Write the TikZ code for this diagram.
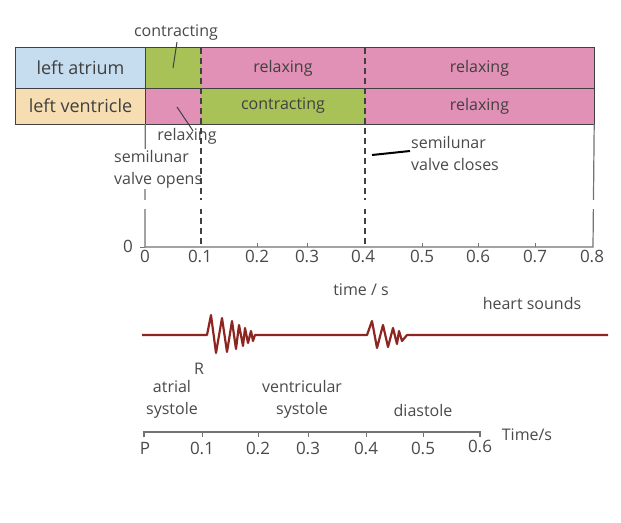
\documentclass[tikz,border=0pt]{standalone}
\usepackage{fontspec}
\setmainfont{Open Sans}
\definecolor{atrium}{HTML}{C6DCEF}
\definecolor{ventricle}{HTML}{F6DEB2}
\definecolor{contract}{HTML}{A9C257}
\definecolor{relax}{HTML}{E190B6}
\definecolor{cellline}{HTML}{404040}
\definecolor{txt}{HTML}{4A4A4A}
\definecolor{axisgray}{HTML}{737373}
\definecolor{sound}{HTML}{8F2520}
\tikzset{
  lbl/.style={text=txt, inner sep=1pt, font=\fontsize{16}{22}\selectfont},
  num/.style={text=txt, inner sep=0pt, font=\fontsize{17}{20}\selectfont},
  phase/.style={dash pattern=on 6pt off 4pt, line width=1.1pt, draw=cellline},
  pointer/.style={draw=cellline, line width=1pt}
}
\begin{document}
\begin{tikzpicture}[x=1pt,y=-1pt]
\useasboundingbox (0,0) rectangle (621,522);
\fill[white] (0,0) rectangle (621,522);

\begin{scope}[every node/.style={inner sep=0pt, text=cellline, font=\fontsize{16}{20}\selectfont}]
  \node[fill=atrium, minimum width=129pt, minimum height=40pt, font=\fontsize{18}{20}\selectfont] (la) at (80.5,68) {left atrium};
  \node[fill=contract, minimum width=56pt, minimum height=40pt] (ac) at (173,68) {};
  \node[fill=relax, minimum width=164pt, minimum height=40pt] (ar1) at (283,68) {relaxing};
  \node[fill=relax, minimum width=229pt, minimum height=40pt] (ar2) at (479.5,68) {relaxing};
  \node[fill=ventricle, minimum width=129pt, minimum height=36pt, font=\fontsize{18}{20}\selectfont] (lv) at (80.5,106) {left ventricle};
  \node[fill=relax, minimum width=56pt, minimum height=36pt] (vr1) at (173,106) {};
  \node[fill=contract, minimum width=164pt, minimum height=36pt] (vc) at (283,106) {contracting};
  \node[fill=relax, minimum width=229pt, minimum height=36pt] (vr2) at (479.5,106) {relaxing};
\end{scope}

\draw[cellline, line width=1.2pt] (la.north west) rectangle (vr2.south east);
\draw[cellline, line width=1.2pt] (la.south west) -- (ar2.south east);
\draw[cellline, line width=1.2pt] (la.north east) -- (lv.south east);

\coordinate (o) at (145,247);
\coordinate (e) at (593,247);
\draw[axisgray, line width=1.2pt] (lv.south east) -- (o) -- (e) -- (vr2.south east);
\draw[axisgray, line width=1pt] (o) -- (140,247);
\draw[axisgray, line width=1pt] (257,247) -- (257,243);
\draw[axisgray, line width=1pt] (307,247) -- (307,243);
\draw[axisgray, line width=1pt] (422,247) -- (422,243);
\draw[axisgray, line width=1pt] (478,247) -- (478,243);
\draw[axisgray, line width=1pt] (535,247) -- (535,243);

\node[num] (y0) at (128,246) {0};
\node[num] (x0) at (145,256) {0};
\node[num] (x1) at (200,256) {0.1};
\node[num] (x2) at (257,256) {0.2};
\node[num] (x3) at (307,256) {0.3};
\node[num] (x4) at (363,256) {0.4};
\node[num] (x5) at (422,256) {0.5};
\node[num] (x6) at (478,256) {0.6};
\node[num] (x7) at (535,256) {0.7};
\node[num] (x8) at (592,256) {0.8};

\node[lbl] (ctop) at (176,33) {contracting};
\coordinate (ctip) at (173,68);
\draw[pointer] ([xshift=1pt]ctop.south) -- (ctip);

\node[lbl] (rlx) at (187,136) {relaxing};
\coordinate (rtip) at (177,107);
\draw[pointer] (rtip) -- ([xshift=6pt,yshift=-4pt]rlx.north);

\node[lbl, fill=white, align=left, anchor=west] (open) at (113,169) {semilunar\\valve opens};

\node[lbl, align=left, anchor=west] (close) at (410,153) {semilunar\\valve closes};
\coordinate (stip) at (372,155);
\draw[black, line width=2pt] (stip) -- ([yshift=2pt]close.west);

\draw[phase] (201,48) -- (201,247);
\draw[phase] (365,48) -- (365,247);

\fill[white] (100,200) rectangle (610,209);

\node[lbl] (tlab) at (361,290) {time / s};
\node[lbl] (hs) at (532,303) {heart sounds};

\draw[sound, line width=2.2pt, line join=round]
  (142,335) -- (207,335) -- (211,315) -- (216,353) -- (222,318) -- (227,352)
  -- (232,321) -- (236,349) -- (239,325) -- (243,346) -- (245,328) -- (248,343)
  -- (251,331) -- (253,341) -- (255,335) -- (367,335) -- (372,321) -- (377,348)
  -- (383,325) -- (388,347) -- (393,328) -- (397,344) -- (399,331) -- (402,341)
  -- (407,335) -- (608,335);

\node[lbl] (r) at (199,369) {R};
\node[lbl, align=center] (as) at (172,399) {atrial\\systole};
\node[lbl, align=center] (vs) at (302,399) {ventricular\\systole};
\node[lbl] (ds) at (423,410) {diastole};

\coordinate (p0) at (144,432);
\coordinate (p6) at (480,432);
\draw[axisgray, line width=1.2pt] ([yshift=-5pt]p0) -- (p0) -- (p6) -- ([yshift=-5pt]p6);
\draw[axisgray, line width=1pt] (202,432) -- (202,437);
\draw[axisgray, line width=1pt] (258,432) -- (258,437);
\draw[axisgray, line width=1pt] (308,432) -- (308,437);
\draw[axisgray, line width=1pt] (366,432) -- (366,437);
\draw[axisgray, line width=1pt] (423,432) -- (423,437);

\node[num] (pp) at (145,448) {P};
\node[num] (b1) at (202,448) {0.1};
\node[num] (b2) at (258,448) {0.2};
\node[num] (b3) at (308,448) {0.3};
\node[num] (b4) at (366,448) {0.4};
\node[num] (b5) at (423,448) {0.5};
\node[num] (b6) at (480,446) {0.6};
\node[lbl] (ts) at (527,435) {Time/s};

\end{tikzpicture}
\end{document}
